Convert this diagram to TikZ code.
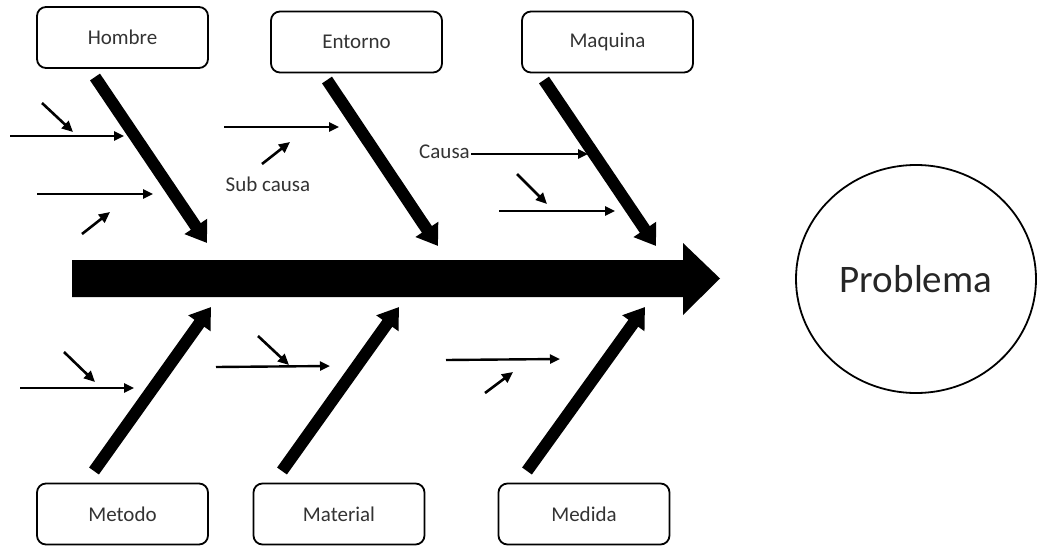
\documentclass[tikz,border=0pt]{standalone}
\usepackage{fontspec}
\setmainfont{Carlito}
\usetikzlibrary{arrows.meta,shapes.geometric}
\begin{document}
\begin{tikzpicture}[x=1pt,y=-1pt,
  catbox/.style={draw,line width=1.8pt,rounded corners=9pt,minimum width=171pt,minimum height=61pt,inner sep=0pt,font=\fontsize{21}{25}\selectfont,text=black!80},
  bone/.style={line width=12pt,-{Triangle[length=20pt,width=26pt]}},
  sub/.style={line width=2.4pt,-{Triangle[length=10pt,width=9pt]}},
  subsub/.style={line width=2.6pt,-{Triangle[length=11pt,width=10pt]}},
  lbl/.style={font=\fontsize{21}{25}\selectfont,text=black!80,inner sep=1pt}]
\useasboundingbox (0,0) rectangle (1037,546);
% boxes
\node[catbox] (hombre) at (122.5,37.5) {Hombre};
\node[catbox] (entorno) at (356.5,42) {Entorno};
\node[catbox] (maquina) at (607.5,42) {Maquina};
\node[catbox] (metodo) at (122.5,514) {Metodo};
\node[catbox] (material) at (339,514) {Material};
\node[catbox] (medida) at (584,514) {Medida};
% problem
\node[draw,line width=1.8pt,ellipse,minimum width=240pt,minimum height=228pt,inner sep=0pt,font=\fontsize{39}{45}\selectfont,text=black!85] (problema) at (916,279) {Problema};
% spine
\fill (72,260) -- (683,260) -- (683,243) -- (720,278.5) -- (683,315) -- (683,297) -- (72,297) -- cycle;
\coordinate (spineL) at (72,278.5);
% bones
\coordinate (b1s) at (95,77); \coordinate (b1e) at (207,243);
\coordinate (b2s) at (327,80); \coordinate (b2e) at (438,246);
\coordinate (b3s) at (544,80); \coordinate (b3e) at (656,246);
\coordinate (b4s) at (94,471); \coordinate (b4e) at (211,307);
\coordinate (b5s) at (282,471); \coordinate (b5e) at (399,307);
\coordinate (b6s) at (527,471); \coordinate (b6e) at (645,307);
\foreach \i in {1,...,6} {\draw[bone] (b\i s) -- (b\i e);}
% sub causes
\coordinate (s1a) at (10,136); \coordinate (s1b) at (124,136);
\coordinate (s2a) at (37,194); \coordinate (s2b) at (153,194);
\coordinate (s3a) at (224,127); \coordinate (s3b) at (339,127);
\coordinate (s4b) at (588,154);
\coordinate (s5a) at (499,211); \coordinate (s5b) at (615,211);
\coordinate (s6a) at (20,388); \coordinate (s6b) at (134,388);
\coordinate (s7a) at (216,367); \coordinate (s7b) at (330,366);
\coordinate (s8a) at (446,360); \coordinate (s8b) at (560,359);
\node[lbl,anchor=east] (causa) at (471,152) {Causa};
\draw[sub] (s1a) -- (s1b);
\draw[sub] (s2a) -- (s2b);
\draw[sub] (s3a) -- (s3b);
\draw[sub] (causa.east) ++(0,2) coordinate (s4a) -- (s4b);
\draw[sub] (s5a) -- (s5b);
\draw[sub] (s6a) -- (s6b);
\draw[sub] (s7a) -- (s7b);
\draw[sub] (s8a) -- (s8b);
% sub-sub causes
\coordinate (t1a) at (42,103); \coordinate (t1b) at (73,132);
\coordinate (t2a) at (82,234); \coordinate (t2b) at (110,212);
\coordinate (t3a) at (262,164); \coordinate (t3b) at (290,142);
\coordinate (t4a) at (517,174); \coordinate (t4b) at (547,204);
\coordinate (t5a) at (64,352); \coordinate (t5b) at (95,382);
\coordinate (t6a) at (258,336); \coordinate (t6b) at (289,365);
\coordinate (t7a) at (485,393); \coordinate (t7b) at (513,372);
\foreach \i in {1,...,7} {\draw[subsub] (t\i a) -- (t\i b);}
\node[lbl] (subcausa) at (268,184) {Sub causa};
\end{tikzpicture}
\end{document}
